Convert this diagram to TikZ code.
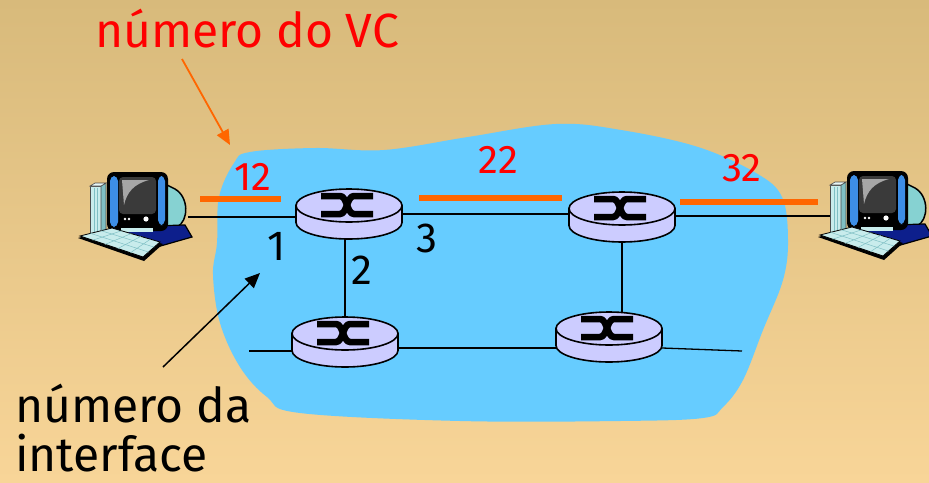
\documentclass[tikz,border=0pt]{standalone}
\usepackage{fontspec}
\setmainfont{Fira Sans}
\usetikzlibrary{arrows.meta,calc}
\definecolor{bgtop}{HTML}{D8BA7B}
\definecolor{bgbot}{HTML}{F8D598}
\definecolor{cloudcol}{HTML}{66CCFF}
\definecolor{routerfill}{HTML}{CCCCFF}
\definecolor{vcorange}{HTML}{FF6600}
\definecolor{towerfront}{HTML}{C8ECEC}
\definecolor{towerside}{HTML}{7FBFC4}
\definecolor{monback}{HTML}{86D2D2}
\definecolor{moncol}{HTML}{3D8EE6}
\definecolor{basecol}{HTML}{0D1F8C}
\definecolor{screencol}{HTML}{3A3A3A}

% router: cylinder with crossed arrows
\newcommand{\router}[2]{%
  \node[routerbox] (#1) at (#2) {};
  \begin{scope}[shift={(#1.center)}]
    \filldraw[routerbody] (-53,-8.5) -- (-53,8.5) arc[start angle=180,end angle=0,x radius=53,y radius=16.5] -- (53,-8.5) -- cycle;
    \filldraw[routerbody] (0,-8.5) ellipse[x radius=53,y radius=16.5];
    \draw[routermark] (-28,-18) -- (-9,-18) .. controls (-2,-18) and (-2,0) .. (5,0) -- (24,0);
    \draw[routermark] (24,-18) -- (5,-18) .. controls (-2,-18) and (-2,0) .. (-9,0) -- (-28,0);
  \end{scope}}

% host: desktop computer
\newcommand{\host}[2]{%
  \node[hostbox] (#1) at (#2) {};
  \begin{scope}[shift={(#1.center)}]
    % tower
    \filldraw[fill=towerfront,draw=black!70,line width=0.6pt] (-49,-31) rectangle (-38,24);
    \filldraw[fill=towerside,draw=black!70,line width=0.6pt] (-38,-31) -- (-33,-34) -- (-33,21) -- (-38,24) -- cycle;
    \filldraw[fill=white!60!towerfront,draw=black!70,line width=0.6pt] (-49,-31) -- (-44,-34) -- (-33,-34) -- (-38,-31) -- cycle;
    \draw[towerside,line width=0.8pt] (-45,-29) -- (-45,22) (-41.5,-29) -- (-41.5,22);
    % monitor back and base
    \filldraw[fill=monback,draw=black,line width=1.5pt] (22,-35) -- (36,-28) .. controls (50,-20) and (50,4) .. (38,10) -- (22,13) -- cycle;
    \filldraw[fill=basecol,draw=black,line width=1.2pt] (-24,10) -- (46,8) -- (53,20) -- (18,30) -- (-22,20) -- cycle;
    % monitor front
    \fill[black,rounded corners=7pt] (-32,-45) rectangle (29,14);
    \fill[moncol,rounded corners=5pt] (-29,-41) rectangle (-21,10);
    \fill[moncol,rounded corners=5pt] (19,-41) rectangle (26,8);
    \fill[screencol,rounded corners=4pt] (-20,-40) rectangle (17,-3);
    \fill[gray!70] (-17,-37) -- (10,-37) .. controls (-5,-33) and (-12,-25) .. (-15,-12) -- cycle;
    \fill[white] (-14,2) circle[radius=1.4] (-10,2) circle[radius=1.4] (7,2) circle[radius=2.6];
    \fill[towerfront] (-18,11) rectangle (14,15);
    % keyboard
    \fill[black] (-61,21) -- (-27,12) -- (24,27) -- (5,44) -- cycle;
    \filldraw[fill=towerfront,draw=black,line width=0.8pt] (-59,19) -- (-27,11) -- (21,25) -- (4,40) -- cycle;
    \foreach \t in {0.2,0.4,0.6,0.8}
      \draw[towerside,line width=0.5pt] ($(-59,19)!\t!(4,40)$) -- ($(-27,11)!\t!(21,25)$);
    \foreach \t in {0.33,0.66}
      \draw[towerside,line width=0.5pt] ($(-59,19)!\t!(-27,11)$) -- ($(4,40)!\t!(21,25)$);
  \end{scope}}

\begin{document}
\begin{tikzpicture}[x=1pt,y=-1pt,
    routerbox/.style={minimum width=106pt,minimum height=50pt,inner sep=0pt},
    routerbody/.style={fill=routerfill,draw=black,line width=1.6pt},
    routermark/.style={draw=black,line width=6.5pt},
    hostbox/.style={minimum width=98pt,minimum height=60pt,inner sep=0pt},
    link/.style={line width=1.3pt},
    vcbar/.style={draw=vcorange,line width=6pt},
    vcnum/.style={text=red,font=\fontsize{40}{40}\selectfont,inner sep=0pt},
    ifnum/.style={font=\fontsize{42}{42}\selectfont,inner sep=0pt},
    caption/.style={font=\fontsize{48}{48}\selectfont,inner sep=0pt,anchor=base west},
    vcarrow/.style={draw=vcorange,line width=1.8pt,-{Triangle[length=15pt,width=13pt]}},
    ifarrow/.style={line width=1.5pt,-{Triangle[length=15pt,width=13pt]}}]
  \useasboundingbox (0,0) rectangle (929,482);
  \shade[top color=bgtop,bottom color=bgbot] (0,0) rectangle (929,482);

  % network cloud
  \fill[cloudcol] plot[smooth cycle,tension=0.6] coordinates {(234,163) (250,152) (315,148) (384,150) (468,137) (556,124) (621,130) (698,147) (756,173) (782,197) (788,240) (783,280) (763,330) (743,380) (723,407) (703,418) (620,421) (460,421) (300,413) (267,397) (240,367) (220,323) (213,275) (217,243) (219,197)};

  % nodes
  \node[routerbox] (r1) at (349,214) {};
  \node[routerbox] (r2) at (622,217) {};
  \node[routerbox] (r3) at (345,342) {};
  \node[routerbox] (r4) at (609,337) {};
  \node[hostbox] (h1) at (139,217) {};
  \node[hostbox] (h2) at (879,216) {};
  \coordinate (s3) at (249,351);
  \coordinate (s4) at (742,351);

  % links
  \draw[link] (h1.east) -- (h1.east -| r1.west);
  \draw[link] (r1.east) -- (r1.east -| r2.west);
  \draw[link] (r2.east |- h2.west) -- (h2.west);
  \draw[link] (r3.north) -- (r3.north |- r1.south);
  \draw[link] (r2.south) -- (r2.south |- r4.north);
  \draw[link] ([yshift=-6pt]r3.east) -- ([yshift=-6pt]r3.east -| r4.west);
  \draw[link] (s3) -- (s3 -| r3.west);
  \draw[link] ([yshift=-11pt]r4.east) -- (s4);

  \router{r1}{349,214}
  \router{r2}{622,217}
  \router{r3}{345,342}
  \router{r4}{609,337}
  \host{h1}{139,217}
  \host{h2}{879,216}

  % VC numbers
  \draw[vcbar] (200,199) -- (281,199);
  \draw[vcbar] (419,198) -- (562,198);
  \draw[vcbar] (680,202) -- (818,202);
  \node[vcnum] (vc12) at (253,177) {12};
  \node[vcnum] (vc22) at (498,160) {22};
  \node[vcnum] (vc32) at (742,168) {32};

  % interface numbers
  \node[ifnum] (if1) at (277,246) {1};
  \node[ifnum] (if2) at (362,270) {2};
  \node[ifnum] (if3) at (427,238) {3};

  % captions
  \node[caption,text=red] (vclabel) at (95,47) {número do VC};
  \node[caption] (iflabel) at (15,422) {número da};
  \node[caption] (iflabelb) at (15,471) {interface};
  \coordinate (vcfrom) at (182,59);
  \coordinate (vcto) at (230,145);
  \coordinate (iffrom) at (163,367);
  \coordinate (ifto) at (260,273);
  \draw[vcarrow] (vcfrom) -- (vcto);
  \draw[ifarrow] (iffrom) -- (ifto);
\end{tikzpicture}
\end{document}
